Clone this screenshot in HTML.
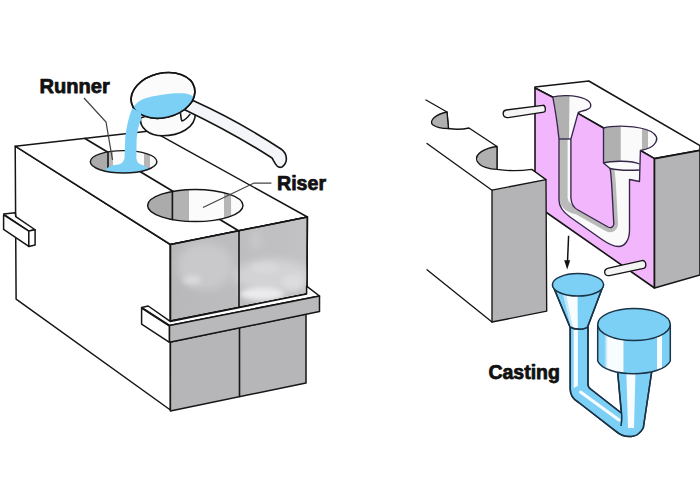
<!DOCTYPE html>
<html><head><meta charset="utf-8">
<style>
html,body{margin:0;padding:0;background:#fff;}
body{width:700px;height:500px;overflow:hidden;}
svg{display:block;}
text{font-family:"Liberation Sans",sans-serif;font-weight:bold;fill:#111;stroke:#111;stroke-width:0.75px;stroke-linejoin:round;}
</style></head>
<body>
<svg width="700" height="500" viewBox="0 0 700 500">
<defs>
  <linearGradient id="gFront" x1="0" y1="0" x2="1" y2="0">
    <stop offset="0" stop-color="#b8b8ba"/>
    <stop offset="0.5" stop-color="#bdbdbf"/>
    <stop offset="1" stop-color="#c2c2c4"/>
  </linearGradient>
  <linearGradient id="gRiser" x1="147.5" y1="0" x2="243" y2="0" gradientUnits="userSpaceOnUse">
    <stop offset="0" stop-color="#ababab"/>
    <stop offset="0.258" stop-color="#ababab"/>
    <stop offset="0.262" stop-color="#b3b3b3"/>
    <stop offset="0.43" stop-color="#b3b3b3"/>
    <stop offset="0.435" stop-color="#fbfbfb"/>
    <stop offset="0.80" stop-color="#fbfbfb"/>
    <stop offset="0.805" stop-color="#b6b6b6"/>
    <stop offset="0.875" stop-color="#b6b6b6"/>
    <stop offset="0.88" stop-color="#fbfbfb"/>
    <stop offset="1" stop-color="#fbfbfb"/>
  </linearGradient>
  <linearGradient id="gRunner" x1="90.3" y1="0" x2="156.9" y2="0" gradientUnits="userSpaceOnUse">
    <stop offset="0" stop-color="#ababab"/>
    <stop offset="0.26" stop-color="#ababab"/>
    <stop offset="0.265" stop-color="#b8b8b8"/>
    <stop offset="0.34" stop-color="#b8b8b8"/>
    <stop offset="0.345" stop-color="#fbfbfb"/>
    <stop offset="0.80" stop-color="#fbfbfb"/>
    <stop offset="0.805" stop-color="#b5b5b5"/>
    <stop offset="0.89" stop-color="#b5b5b5"/>
    <stop offset="0.895" stop-color="#fbfbfb"/>
    <stop offset="1" stop-color="#fbfbfb"/>
  </linearGradient>
  <linearGradient id="gCyl" x1="597.7" y1="0" x2="670.3" y2="0" gradientUnits="userSpaceOnUse">
    <stop offset="0" stop-color="#7ccff5"/>
    <stop offset="0.09" stop-color="#7ccff5"/>
    <stop offset="0.12" stop-color="#c8ecfb"/>
    <stop offset="0.14" stop-color="#f7fcff"/>
    <stop offset="0.35" stop-color="#f7fcff"/>
    <stop offset="0.36" stop-color="#7ccff5"/>
    <stop offset="0.81" stop-color="#7ccff5"/>
    <stop offset="0.82" stop-color="#f7fcff"/>
    <stop offset="0.88" stop-color="#f7fcff"/>
    <stop offset="0.89" stop-color="#7ccff5"/>
    <stop offset="1" stop-color="#7ccff5"/>
  </linearGradient>
  <linearGradient id="gCone" x1="552" y1="0" x2="604" y2="0" gradientUnits="userSpaceOnUse">
    <stop offset="0" stop-color="#7ccff5"/>
    <stop offset="0.2" stop-color="#7ccff5"/>
    <stop offset="0.26" stop-color="#f7fcff"/>
    <stop offset="0.52" stop-color="#f7fcff"/>
    <stop offset="0.53" stop-color="#7ccff5"/>
    <stop offset="1" stop-color="#7ccff5"/>
  </linearGradient>
  <linearGradient id="gSprue" x1="569" y1="0" x2="589" y2="0" gradientUnits="userSpaceOnUse">
    <stop offset="0" stop-color="#7ccff5"/>
    <stop offset="0.2" stop-color="#7ccff5"/>
    <stop offset="0.25" stop-color="#f7fcff"/>
    <stop offset="0.45" stop-color="#f7fcff"/>
    <stop offset="0.5" stop-color="#7ccff5"/>
    <stop offset="1" stop-color="#7ccff5"/>
  </linearGradient>
  <linearGradient id="gNeck" x1="617" y1="0" x2="653" y2="0" gradientUnits="userSpaceOnUse">
    <stop offset="0" stop-color="#7ccff5"/>
    <stop offset="0.25" stop-color="#7ccff5"/>
    <stop offset="0.27" stop-color="#f7fcff"/>
    <stop offset="0.5" stop-color="#f7fcff"/>
    <stop offset="0.52" stop-color="#7ccff5"/>
    <stop offset="1" stop-color="#7ccff5"/>
  </linearGradient>
  <linearGradient id="gSprueCav" x1="553" y1="0" x2="591" y2="0" gradientUnits="userSpaceOnUse">
    <stop offset="0" stop-color="#b0b0b0"/>
    <stop offset="0.44" stop-color="#b0b0b0"/>
    <stop offset="0.46" stop-color="#fafafa"/>
    <stop offset="1" stop-color="#fafafa"/>
  </linearGradient>
  <linearGradient id="gRiserCav" x1="603.5" y1="0" x2="657.5" y2="0" gradientUnits="userSpaceOnUse">
    <stop offset="0" stop-color="#b0b0b0"/>
    <stop offset="0.31" stop-color="#b0b0b0"/>
    <stop offset="0.33" stop-color="#fafafa"/>
    <stop offset="0.71" stop-color="#fafafa"/>
    <stop offset="0.72" stop-color="#b5b5b5"/>
    <stop offset="0.82" stop-color="#b5b5b5"/>
    <stop offset="0.83" stop-color="#fafafa"/>
    <stop offset="1" stop-color="#fafafa"/>
  </linearGradient>
  <clipPath id="rimClip"><ellipse cx="163" cy="95.4" rx="32.4" ry="22.2" transform="rotate(-13.7 163 95.4)"/></clipPath>
  <clipPath id="runClip"><ellipse cx="123.6" cy="161.8" rx="33.3" ry="11.2"/></clipPath>
  <clipPath id="cavClip"><path d="M552.8,97.2 C558,95 575,94.5 585,99 C592,102 593,108 586,110 C582,111 579.5,111.8 578.2,112.6 L570.9,139 L570.9,198 C571.3,204 574,208 578,210 L608,227 C611,228.5 613.5,227 613.8,224 L612,190 C611.3,178 610.8,171 610,168.5 L603.5,163 L603.5,128 C612,125.5 638,124.8 651,131.5 C662,138 656,148 640.4,150.5 L639.5,181.5 L629.5,179.5 L629.5,230 C629.5,240 625,246.5 618.5,246.5 C613,246.5 607,243 602,239.5 L570,217 C563,212 559,207 559,200 L559,139 C557.5,125 555,108 552.8,97.2 Z"/></clipPath>
  <clipPath id="frontClip"><polygon points="170.4,244.5 307.4,217 307,294 170.4,321"/></clipPath>
  <filter id="blur5" x="-50%" y="-50%" width="200%" height="200%"><feGaussianBlur stdDeviation="4"/></filter>
  <filter id="blur3" x="-50%" y="-50%" width="200%" height="200%"><feGaussianBlur stdDeviation="2.5"/></filter>
</defs>

<g stroke="#151515" stroke-width="1.5" stroke-linejoin="round" stroke-linecap="round">
  <!-- ============ LEFT BLOCK ============ -->
  <!-- left face -->
  <polygon points="15.2,146.2 170.4,244.5 170.4,410 16.1,299.1" fill="#fff"/>
  <!-- top face -->
  <polygon points="15.2,146.2 152,130.8 307.4,217 170.4,244.5" fill="#fff"/>
  <!-- upper front face -->
  <polygon points="170.4,244.5 307.4,217 307,294 170.4,321" fill="url(#gFront)"/>
  <g clip-path="url(#frontClip)" stroke="none">
    <g filter="url(#blur5)">
      <ellipse cx="205" cy="266" rx="28" ry="24" fill="#c9c9cb"/>
      <ellipse cx="273" cy="276" rx="38" ry="17" fill="#d3d3d5"/>
      <ellipse cx="256" cy="240" rx="5" ry="10" fill="#cacacc"/>
    </g>
    <g filter="url(#blur3)">
      <ellipse cx="192" cy="280" rx="9" ry="4.5" fill="#dadadc"/>
      <ellipse cx="262" cy="294" rx="22" ry="6.5" fill="#ebebed"/>
      <ellipse cx="293" cy="282" rx="11" ry="8" fill="#dcdcde"/>
      <ellipse cx="265" cy="268" rx="14" ry="5" fill="#d9d9db"/>
    </g>
  </g>
  <polygon points="170.4,244.5 307.4,217 307,294 170.4,321" fill="none"/>
  <!-- lower front face -->
  <polygon points="170.4,342 306,314 306,383 170.4,411" fill="#b6b6b9"/>
  <!-- parting lines front -->
  <line x1="239" y1="231" x2="239" y2="307" stroke-width="1.6"/>
  <line x1="239.5" y1="328" x2="239.5" y2="396.5" stroke-width="1.6"/>
  <!-- parting line on top -->
  <line x1="85" y1="138.5" x2="239" y2="231" stroke-width="1.8"/>

  <!-- band -->
  <polygon points="141.6,307.5 148.2,306 170.2,321.4 306.6,294 306.6,286.2 319.5,296 169.5,325.5" fill="#fff"/>
  <polygon points="141.6,308 169.5,326 169.5,342.3 141.6,324.1" fill="#fff"/>
  <polygon points="169.5,325.5 319.5,296 319.5,311.5 169.5,342.3" fill="#b9b9bb"/>

  <!-- left tab -->
  <polygon points="3.6,214 15.3,212.7 15.75,216.7 35.1,229.75 28.8,231.1" fill="#fff"/>
  <polygon points="3.6,214.9 28.8,231.1 28.8,246.4 3.6,229.3" fill="#fff"/>
  <polygon points="28.8,231.1 35.1,229.75 35.1,245 28.8,246.4" fill="#fff"/>

  <!-- riser hole -->
  <ellipse cx="195.3" cy="205.5" rx="47.7" ry="16.1" fill="url(#gRiser)" stroke-width="1.45"/>
  <line x1="172.4" y1="191.8" x2="172.4" y2="219.5" stroke-width="1.6"/>
  <!-- runner hole -->
  <ellipse cx="123.6" cy="161.8" rx="33.3" ry="11.2" fill="url(#gRunner)" stroke="none"/>
  <line x1="108" y1="152" x2="108" y2="171" stroke-width="1.6"/>
</g>

<!-- blue pool in runner hole -->
<g clip-path="url(#runClip)">
  <path d="M103,174 C105,167.5 111,165.5 117,164.8 C121,164.3 123.2,162.5 124.3,159 L136.3,159 C137,162.5 139,164.3 142.5,165 C146,166 148,168 149,171 L149,177 L100,177 Z" fill="#7dd0f5"/>
</g>
<ellipse cx="123.6" cy="161.8" rx="33.3" ry="11.2" fill="none" stroke="#1a1a1a" stroke-width="1.45"/>

<!-- leader lines -->
<g stroke="#444" stroke-width="1.25" fill="none">
  <polyline points="84,98 106,122 112.5,160"/>
  <polyline points="271.4,183 254,183 203,207.5"/>
</g>

<!-- ============ LADLE ============ -->
<g stroke="#151515" stroke-width="1.6" stroke-linejoin="round">
  <!-- bowl body -->
  <path d="M140.5,118 C139.5,128 149,135.8 162.5,135.8 C179,135.8 196,128 195.3,113 L193,100 Z" fill="#fbfbfb"/>
  <!-- handle -->
  <path d="M193,100.6 C225,115 255,132 281,149 C288,154 288,163 282,167 C277,169 275,163 272,158 C255,147 225,129 184.7,109.7 Z" fill="#f3f5f8"/>
  <!-- notch -->
  <path d="M180.5,113.2 C181,117 181,120 182,121 C185,120 188,117 190.3,113.9" fill="none" stroke-width="1.5"/>
  <!-- rim -->
  <ellipse cx="163" cy="95.4" rx="32.4" ry="22.2" transform="rotate(-13.7 163 95.4)" fill="#fbfbfb"/>
</g>
<g clip-path="url(#rimClip)">
  <path d="M131,112 C134,104 140,99 150,97 C160,94.5 175,92.3 186,93.5 C192,95 196,98 198,101 L198,130 L128,130 Z" fill="#7dd0f5"/>
</g>
<ellipse cx="163" cy="95.4" rx="32.4" ry="22.2" transform="rotate(-13.7 163 95.4)" fill="none" stroke="#151515" stroke-width="1.6"/>
<!-- stream -->
<path d="M132.3,108 C129,116 126.5,126 125.2,138 L124.3,166 L136.3,166 L136.6,140 C137,132 138.5,125 141.2,119.5 L141,113 C138,111 135,109 132.3,108 Z" fill="#7dd0f5"/>
<!-- ============ LABELS ============ -->
<text x="39.4" y="93.3" font-size="20.1">Runner</text>
<text x="277" y="190.3" font-size="19.6">Riser</text>
<text x="488.4" y="379" font-size="19.5">Casting</text>

<!-- ============ RIGHT MOLD ============ -->
<g stroke="#151515" stroke-width="1.6" stroke-linejoin="round" stroke-linecap="round">
  <!-- right half: top face -->
  <polygon points="535,87 588.8,81 700,145.6 700,150.4 654.5,158.6 640.4,150.5 603.5,128 578,113.4 552.8,97.2 535,88" fill="#fff"/>
  <!-- pink face -->
  <polygon points="535,88 552.8,97.2 578,113.4 603.5,128 640.4,150.5 654.5,158.6 654.5,288 535,204.5" fill="#f2b6fc"/>
  <!-- front face right half -->
  <polygon points="654.5,158.6 700,150.4 700,275 654.5,288" fill="#b4b4b6"/>
</g>

<!-- cavity (union) -->
<path d="M552.8,97.2 C558,95 575,94.5 585,99 C592,102 593,108 586,110 C582,111 579.5,111.8 578.2,112.6 L570.9,139 L570.9,198 C571.3,204 574,208 578,210 L608,227 C611,228.5 613.5,227 613.8,224 L612,190 C611.3,178 610.8,171 610,168.5 L603.5,163 L603.5,128 C612,125.5 638,124.8 651,131.5 C662,138 656,148 640.4,150.5 L639.5,181.5 L629.5,179.5 L629.5,230 C629.5,240 625,246.5 618.5,246.5 C613,246.5 607,243 602,239.5 L570,217 C563,212 559,207 559,200 L559,139 C557.5,125 555,108 552.8,97.2 Z" fill="#fafafa"/>
<!-- sprue funnel shading -->
<path d="M553.5,98 C556,110 558,126 559,139 L569,139 L569.5,96 C563,95.5 557,96 553.5,98 Z" fill="#b1b1b1"/>
<!-- channel gray band -->
<g clip-path="url(#cavClip)">
  <path d="M563.4,139 L563.4,198 C564,206 571,209.5 578,210.5 L608,227.5 C611,229 613.5,227 613.8,224 L612,190 C611.3,178 610.8,171 610,168.5" fill="none" stroke="#bababa" stroke-width="8.4"/>
</g>
<!-- riser cavity -->
<path d="M603.5,128 C612,125.5 638,124.8 651,131.5 C662,138 656,148 640.4,150.5 L639.5,164 L603.5,163 Z" fill="url(#gRiserCav)"/>
<!-- step ledge -->
<path d="M603.5,163 C612,160.5 632,160.5 639.5,164 L639.5,170 C628,170.5 615,170 610,168.5 Z" fill="#fafafa"/>
<!-- notch face -->

<g fill="none" stroke="#36264a" stroke-width="1.35" stroke-linejoin="round">
  <path d="M552.8,97.2 C558,95 575,94.5 585,99 C592,102 593,108 586,110 C582,111 579.5,111.8 578.2,112.6 L570.9,139 L570.9,198 C571.3,204 574,208 578,210 L608,227 C611,228.5 613.5,227 613.8,224 L612,190 C611.3,178 610.8,171 610,168.5"/>
  <path d="M603.5,128 C612,125.5 638,124.8 651,131.5 C662,138 656,148 640.4,150.5 L639.5,181.5 L629.5,179.5 L629.5,230 C629.5,240 625,246.5 618.5,246.5 C613,246.5 607,243 602,239.5 L570,217 C563,212 559,207 559,200 L559,139 C557.5,125 555,108 552.8,97.2"/>
  <path d="M603.5,128 L603.5,163 C612,160.5 632,160.5 639.5,164"/>
  <path d="M603.5,163 L610,168.5 C618,170.5 630,170.5 639.5,170"/>
  <path d="M559,139 L570.9,139"/>
</g>

<!-- left half of mold -->
<g stroke="#151515" stroke-width="1.35" stroke-linejoin="round" stroke-linecap="round">
  <path d="M426,100 L447,112 L448.5,128.5 C455,129.5 462,129.5 469,128 L497,146.5 L497,169.4 C508,171 520,171 531.8,169.4 L546,179.6 L492,190.2 L427,143.5 Z" fill="#fff" stroke="none"/>
  <polygon points="492,190.2 546,179.6 546.7,311.2 492,322" fill="#b4b4b6"/>
  <polyline points="426,100 447,112 448.5,128.5" fill="none"/>
  <path d="M448.5,128.5 C455,129.5 462,129.5 469,128 L497,146.5 L497,169.4 C508,171 520,171 531.8,169.4 L546,179.6" fill="none"/>
  <path d="M447,112 C436,114 428,121 433,125 C437,128 443,128.5 448.5,128.5 Z" fill="#b0b0b0"/>
  <path d="M497,146.5 C485,148 474,154 477,161 C480,167 490,169.4 497,169.4 Z" fill="#b0b0b0"/>
  <line x1="427" y1="143.5" x2="492" y2="190.2"/>
  <line x1="427" y1="269.8" x2="492" y2="322"/>
</g>

<!-- pins -->
<g stroke="#151515" stroke-width="1.35">
  <path d="M506.2,110 L542.8,105.3 C545.8,105 546.2,111.8 543.8,112.2 L508.2,117.6 C502.5,118.3 501.5,111 506.2,110 Z" fill="#f6f6f6"/>
  <path d="M608.5,268.2 L642,260.6 C646.5,259.8 647,267.5 643.5,268.4 L609.5,275.6 C603.5,276.5 603,269.5 608.5,268.2 Z" fill="#f4f4f4"/>
</g>

<!-- arrow -->
<line x1="568.6" y1="235.8" x2="567.5" y2="262" stroke="#111" stroke-width="1.5"/>
<path d="M564.2,260.3 L567.2,269.6 L570.2,260.3 Z" fill="#111"/>

<!-- ============ CASTING ============ -->
<g stroke="#1b3346" stroke-width="1.5" stroke-linejoin="round">
  <!-- runner + sprue + neck union -->
  <path d="M570.2,327 L570.2,389 C570.2,395 574,400 578.7,402.5 L616,431.4 C620,435 626,437 631.4,436.5 C637,436 641,432 643.3,428 L652.7,365 L617,365 L621.3,413 L590.6,389 C589,388 588,386 588,384 L588,327 Z" fill="#7ccff5"/>
</g>
<!-- highlights -->
<path d="M573.6,327 L577.9,327 L577.9,386 L573.6,388 Z" fill="#f7fcff"/>
<path d="M580.5,392 L619,420" stroke="#f7fcff" stroke-width="3" stroke-linecap="round"/>
<path d="M626.3,370 L635.5,370 L634,428 L628,428 Z" fill="#f7fcff"/>
<g stroke="#1b3346" stroke-width="1.5" stroke-linejoin="round" fill="none">
  <path d="M570.2,327 L570.2,389 C570.2,395 574,400 578.7,402.5 L616,431.4 C620,435 626,437 631.4,436.5 C637,436 641,432 643.3,428 L652.7,365"/>
  <path d="M617,365 L621.8,416 C622,419 621.5,423 621,426"/>
  <path d="M588,327 L588,384 C588,386 589,388 590.6,389 L621.3,413"/>
</g>
<g stroke="#1b3346" stroke-width="1.5" stroke-linejoin="round">
  <!-- cone -->
  <path d="M552.6,285 L570,327 C575,330 584,330 587.6,327 L603.4,285 Z" fill="#7ccff5"/>
  <path d="M561.5,288 L565,288 L577.5,290 L577.8,328 L573,328 L564.5,299 Z" fill="#f7fcff" stroke="none"/>
  <path d="M561.5,288 L565,288 L573,328 L571,328 Z" fill="#c4e9fa" stroke="none"/>
  <path d="M552.6,285 L570,327 C575,330 584,330 587.6,327 L603.4,285" fill="none"/>
  <ellipse cx="578" cy="284.8" rx="25.6" ry="11.2" fill="#7ccff5"/>
  <!-- cylinder -->
  <path d="M597.7,324.5 L597.7,361 C605,378 662,378 670.3,361 L670.3,324.5 Z" fill="url(#gCyl)"/>
  <ellipse cx="634" cy="324.5" rx="36.3" ry="16" fill="#7ccff5"/>
</g>
</svg>
</body></html>
